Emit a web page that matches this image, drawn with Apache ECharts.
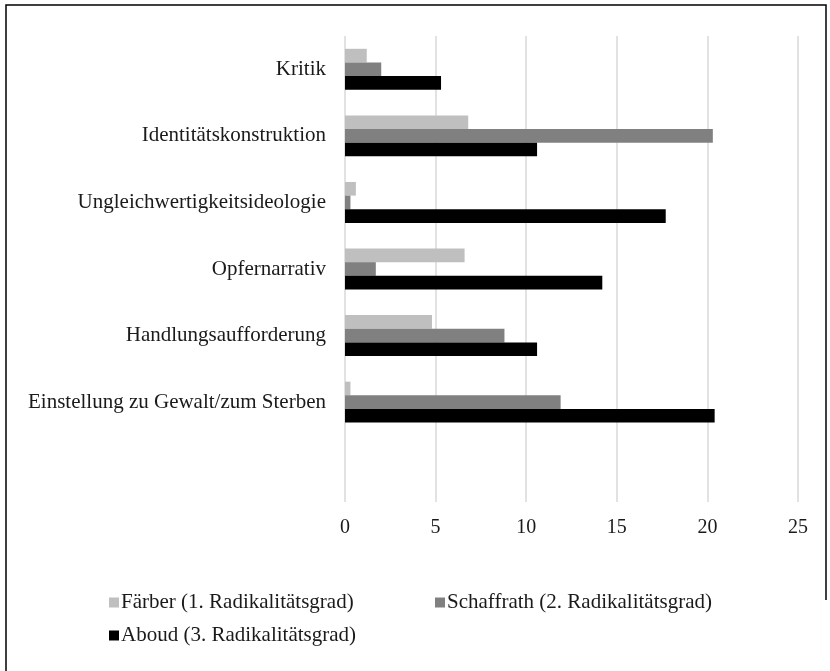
<!DOCTYPE html>
<html>
<head>
<meta charset="utf-8">
<script src="https://cdn.jsdelivr.net/npm/echarts@6/dist/echarts.min.js"></script>
<style>
    html, body { margin: 0; padding: 0; background: #fff; }
    #chart { width: 830px; height: 671px; }
</style>
</head>
<body>
<div id="chart"></div>
<script>
// Kategorien (von oben nach unten), letzte Zeile bleibt leer
var categories = ['Kritik', 'Identitätskonstruktion', 'Ungleichwertigkeitsideologie',
    'Opfernarrativ', 'Handlungsaufforderung', 'Einstellung zu Gewalt/zum Sterben', ''];
var faerber = [1.2, 6.8, 0.6, 6.6, 4.8, 0.3, null];
var schaffrath = [2.0, 20.3, 0.3, 1.7, 8.8, 11.9, null];
var aboud = [5.3, 10.6, 17.7, 14.2, 10.6, 20.4, null];
var xTicks = [0, 5, 10, 15, 20, 25];

var font = 'Liberation Serif';
var myChart = echarts.init(document.getElementById('chart'));
var option = {
    animation: false,
    textStyle: { fontFamily: font },
    graphic: [{
        type: 'polyline',
        shape: { points: [[6, 700], [6, 5], [826, 5], [826, 600]] },
        style: { stroke: '#000', lineWidth: 1.5, fill: null }
    }],
    grid: { left: 345, right: 32, top: 36, bottom: 169, containLabel: false },
    legend: [{
        data: ['Färber (1. Radikalitätsgrad)', 'Aboud (3. Radikalitätsgrad)'],
        orient: 'vertical',
        left: 104, top: 587,
        itemWidth: 10, itemHeight: 10, itemGap: 12,
        icon: 'rect',
        textStyle: { fontFamily: font, fontSize: 21, color: '#1a1a1a', padding: [0, 0, 0, -3] }
    }, {
        data: ['Schaffrath (2. Radikalitätsgrad)'],
        left: 430, top: 587,
        itemWidth: 10, itemHeight: 10,
        icon: 'rect',
        textStyle: { fontFamily: font, fontSize: 21, color: '#1a1a1a', padding: [0, 0, 0, -3] }
    }],
    xAxis: {
        type: 'value',
        min: 0, max: 25, interval: 5,
        axisLine: { show: false },
        axisTick: { show: false },
        axisLabel: {
            fontFamily: font, fontSize: 20, color: '#1a1a1a', margin: 16,
            formatter: function (v) { return xTicks.indexOf(v) >= 0 ? String(v) : ''; }
        },
        splitLine: { lineStyle: { color: '#d9d9d9', width: 1.5 } }
    },
    yAxis: {
        type: 'category',
        inverse: true,
        data: categories,
        axisLine: { show: false },
        axisTick: { show: false },
        axisLabel: { fontFamily: font, fontSize: 21, color: '#1a1a1a', margin: 19 }
    },
    series: [{
        name: 'Färber (1. Radikalitätsgrad)',
        type: 'bar', data: faerber,
        itemStyle: { color: '#bfbfbf' },
        barGap: '0%', barCategoryGap: '38.5%'
    }, {
        name: 'Schaffrath (2. Radikalitätsgrad)',
        type: 'bar', data: schaffrath,
        itemStyle: { color: '#808080' },
        barGap: '0%', barCategoryGap: '38.5%'
    }, {
        name: 'Aboud (3. Radikalitätsgrad)',
        type: 'bar', data: aboud,
        itemStyle: { color: '#000000' },
        barGap: '0%', barCategoryGap: '38.5%'
    }]
};
option && myChart.setOption(option);
</script>
</body>
</html>
